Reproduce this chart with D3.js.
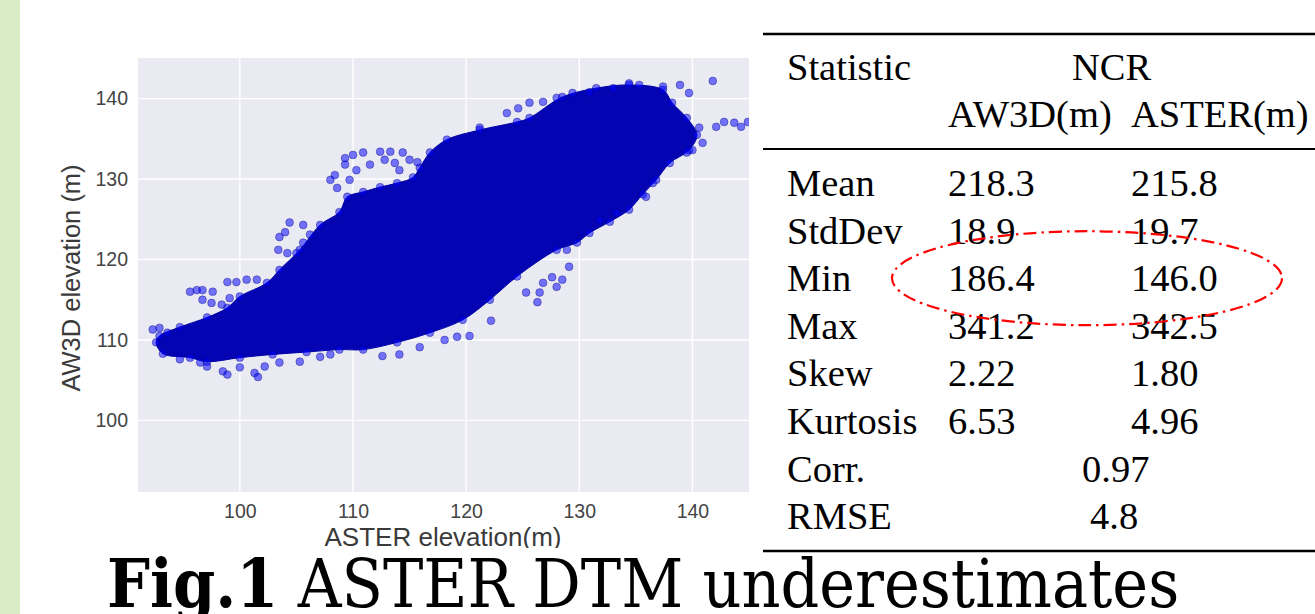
<!DOCTYPE html>
<html>
<head>
<meta charset="utf-8">
<script src="https://cdn.jsdelivr.net/npm/d3@7"></script>
<style>
  html, body { margin: 0; padding: 0; background: #fff; }
  svg { display: block; }
</style>
</head>
<body>
<div id="chart"></div>
<script>
// axis ticks (ASTER on x, AW3D on y), both in metres
const xTicks = [100, 110, 120, 130, 140];
const yTicks = [100, 110, 120, 130, 140];

// outline of the dense part of the scatter cloud, [ASTER, AW3D]
const cloudOutline = [
  [92.6, 109.7], [92.9, 110.5], [94.7, 111.6], [97.1, 112.8], [98.9, 114.0],
  [100.0, 115.4], [102.4, 117.1], [103.5, 118.7], [105.3, 121.2], [107.1, 124.3],
  [108.8, 125.9], [109.5, 127.8], [110.9, 128.4], [112.4, 129.0], [113.9, 129.5],
  [115.3, 130.2], [115.9, 131.4], [116.8, 133.3], [118.3, 134.9], [121.2, 136.1],
  [124.5, 137.1], [125.6, 137.6], [128.5, 140.2], [131.5, 141.3], [134.4, 141.7],
  [137.4, 141.1], [138.2, 139.5], [139.5, 137.6], [140.4, 135.5], [139.7, 133.6],
  [138.0, 132.0], [136.8, 129.9], [135.6, 128.1], [134.4, 126.2], [132.7, 124.7],
  [130.9, 123.3], [129.8, 122.1], [128.0, 121.2], [124.5, 117.9], [122.1, 115.0],
  [119.7, 112.5], [116.8, 110.9], [113.9, 109.7], [110.9, 108.8], [108.8, 108.8],
  [105.9, 108.5], [102.9, 108.2], [100.0, 107.8], [97.1, 107.3], [95.6, 107.8],
  [93.2, 108.3]
];

// sparse points around the cloud, [ASTER, AW3D]
const outliers = [
  [92.3, 111.3], [93.6, 110.9], [92.9, 111.5],
  [96.2, 116.2], [96.7, 116.2], [97.6, 116.0], [98.9, 117.2], [99.7, 117.2],
  [100.6, 117.5], [101.5, 117.5], [96.7, 115.0], [97.5, 114.6], [98.4, 114.4],
  [99.1, 115.2], [95.6, 116.0],
  [103.5, 122.8], [104.4, 124.6], [105.6, 124.3], [105.6, 122.1], [103.4, 121.2],
  [104.2, 120.8], [105.0, 120.8], [104.0, 123.4], [106.2, 123.1],
  [110.0, 133.0], [110.9, 133.3], [112.4, 133.4], [113.3, 133.4], [114.4, 133.3],
  [109.3, 131.8], [111.5, 131.8], [113.7, 132.0], [115.0, 132.4], [108.4, 130.5],
  [109.7, 129.9], [108.0, 129.9], [108.6, 128.9],
  [109.3, 132.6], [110.3, 131.1], [112.8, 132.4], [114.1, 131.1], [115.7, 132.1],
  [121.2, 136.4], [123.6, 138.2], [124.6, 138.8], [125.6, 139.5], [126.8, 139.6],
  [128.0, 140.1], [129.4, 140.7], [130.9, 140.8], [133.0, 141.3], [134.4, 141.9],
  [135.3, 141.7], [137.4, 141.5], [138.9, 141.7], [139.7, 140.7], [141.8, 142.2],
  [142.1, 136.5], [142.8, 137.1], [143.7, 137.0], [144.3, 136.5], [144.9, 137.1],
  [140.6, 136.4], [140.9, 134.5], [140.0, 133.6], [139.5, 133.3],
  [131.8, 124.9], [133.3, 125.8], [135.9, 127.8], [136.5, 129.5], [128.9, 121.2],
  [129.1, 119.1], [128.5, 117.5], [128.0, 116.6], [127.6, 117.8], [126.8, 117.1],
  [126.5, 115.9], [122.2, 112.4], [126.3, 114.7], [125.3, 115.9],
  [120.3, 110.5], [119.2, 110.4], [112.6, 108.0], [114.1, 108.2], [115.9, 109.1],
  [118.1, 110.0],
  [98.5, 106.1], [98.9, 105.7], [101.3, 105.9], [101.6, 105.4], [97.1, 106.7],
  [96.5, 107.2], [105.3, 107.3], [107.1, 107.9], [108.0, 108.2], [103.5, 107.2],
  [94.7, 107.6], [100.0, 106.6], [102.2, 106.7]
];

// statistics table
const statNames = ["Mean", "StdDev", "Min", "Max", "Skew", "Kurtosis"];
const aw3dValues = ["218.3", "18.9", "186.4", "341.2", "2.22", "6.53"];
const asterValues = ["215.8", "19.7", "146.0", "342.5", "1.80", "4.96"];
const jointNames = ["Corr.", "RMSE"];
const jointValues = ["0.97", "4.8"];

const W = 1315, H = 614;
const svg = d3.select("#chart").append("svg")
  .attr("width", W).attr("height", H);

// green strip on the left
svg.append("rect").attr("x", 0).attr("y", 0).attr("width", 20).attr("height", H)
  .attr("fill", "#d9ebc4");

// ---- scatter plot ----
const x = d3.scaleLinear().domain([91, 145]).range([138, 749]);
const y = d3.scaleLinear().domain([91.1, 145.05]).range([492, 58]);

svg.append("rect")
  .attr("x", x.range()[0]).attr("y", y.range()[1])
  .attr("width", x.range()[1] - x.range()[0])
  .attr("height", y.range()[0] - y.range()[1])
  .attr("fill", "#eaeaf2");

svg.append("clipPath").attr("id", "plotclip").append("rect")
  .attr("x", x.range()[0]).attr("y", y.range()[1])
  .attr("width", x.range()[1] - x.range()[0])
  .attr("height", y.range()[0] - y.range()[1]);

const grid = svg.append("g").attr("stroke", "#fff").attr("stroke-width", 1.4);
grid.selectAll(".gx").data(xTicks).join("line")
  .attr("x1", d => x(d)).attr("x2", d => x(d))
  .attr("y1", y.range()[1]).attr("y2", y.range()[0]);
grid.selectAll(".gy").data(yTicks).join("line")
  .attr("y1", d => y(d)).attr("y2", d => y(d))
  .attr("x1", x.range()[0]).attr("x2", x.range()[1]);

const xAxis = svg.append("g")
  .attr("transform", `translate(0,${y.range()[0]})`)
  .call(d3.axisBottom(x).tickValues(xTicks).tickSize(0).tickPadding(12));
const yAxis = svg.append("g")
  .attr("transform", `translate(${x.range()[0]},0)`)
  .call(d3.axisLeft(y).tickValues(yTicks).tickSize(0).tickPadding(10));
[xAxis, yAxis].forEach(a => {
  a.select(".domain").remove();
  a.selectAll("text")
    .attr("fill", "#444")
    .style("font-family", "'Liberation Sans', Arial, sans-serif")
    .style("font-size", "19.5px");
});

const plot = svg.append("g").attr("clip-path", "url(#plotclip)");

// dense core of the cloud
plot.append("path")
  .datum(cloudOutline)
  .attr("d", d3.line().x(d => x(d[0])).y(d => y(d[1])).curve(d3.curveCatmullRomClosed))
  .attr("fill", "#0404b2")
  .attr("stroke", "#0000a8")
  .attr("stroke-width", 1);

// individual points (edge of the cloud and outliers)
plot.selectAll("circle.pt")
  .data(cloudOutline.concat(outliers))
  .join("circle")
  .attr("class", "pt")
  .attr("cx", d => x(d[0]))
  .attr("cy", d => y(d[1]))
  .attr("r", 3.9)
  .attr("fill", "#0000ff")
  .attr("fill-opacity", 0.52)
  .attr("stroke", "#00006e")
  .attr("stroke-opacity", 0.45)
  .attr("stroke-width", 0.8);

// axis titles
svg.append("text")
  .attr("transform", `translate(80,${(y.range()[0] + y.range()[1]) / 2 + 3}) rotate(-90)`)
  .attr("text-anchor", "middle")
  .attr("fill", "#3a3a3a")
  .style("font-family", "'Liberation Sans', Arial, sans-serif")
  .style("font-size", "25.5px")
  .text("AW3D elevation (m)");

svg.append("text")
  .attr("x", 443).attr("y", 546)
  .attr("text-anchor", "middle")
  .attr("fill", "#3a3a3a")
  .style("font-family", "'Liberation Sans', Arial, sans-serif")
  .style("font-size", "26px")
  .text("ASTER elevation(m)");

// white band behind the caption
svg.append("rect").attr("x", 20).attr("y", 548).attr("width", W - 20).attr("height", H - 548)
  .attr("fill", "#fff");

// ---- statistics table ----
const tbl = svg.append("g")
  .style("font-family", "'Liberation Serif', 'Times New Roman', serif")
  .style("font-size", "38.5px")
  .attr("fill", "#000");

const col0 = 787, col1 = 948, col2 = 1131;
const firstRow = 196, rowStep = 47.6;
const rowY = i => firstRow + i * rowStep;

tbl.append("line").attr("x1", 763).attr("x2", W).attr("y1", 34).attr("y2", 34)
  .attr("stroke", "#000").attr("stroke-width", 2.6);
tbl.append("line").attr("x1", 763).attr("x2", W).attr("y1", 149).attr("y2", 149)
  .attr("stroke", "#000").attr("stroke-width", 1.8);
tbl.append("line").attr("x1", 763).attr("x2", W).attr("y1", 551).attr("y2", 551)
  .attr("stroke", "#000").attr("stroke-width", 2.6);

tbl.append("text").attr("x", col0).attr("y", 80).text("Statistic");
tbl.append("text").attr("x", 1072).attr("y", 80).text("NCR");
tbl.append("text").attr("x", col1).attr("y", 127).text("AW3D(m)");
tbl.append("text").attr("x", col2).attr("y", 127).text("ASTER(m)");

statNames.forEach((name, i) => {
  tbl.append("text").attr("x", col0).attr("y", rowY(i)).text(name);
  tbl.append("text").attr("x", col1).attr("y", rowY(i)).text(aw3dValues[i]);
  tbl.append("text").attr("x", col2).attr("y", rowY(i)).text(asterValues[i]);
});
jointNames.forEach((name, j) => {
  const i = statNames.length + j;
  tbl.append("text").attr("x", col0).attr("y", rowY(i)).text(name);
  tbl.append("text").attr("x", j === 0 ? 1082 : 1090).attr("y", rowY(i)).text(jointValues[j]);
});

// red dash-dot ellipse around the Min row
const minRow = statNames.indexOf("Min");
svg.append("ellipse")
  .attr("cx", 1087).attr("cy", rowY(minRow) - 13)
  .attr("rx", 195).attr("ry", 47)
  .attr("fill", "none")
  .attr("stroke", "#ff0000")
  .attr("stroke-width", 2.2)
  .attr("stroke-dasharray", "13,5,2.5,5");

// ---- caption ----
const cap = svg.append("text")
  .attr("x", 107).attr("y", 607)
  .attr("fill", "#000")
  .style("font-family", "'DejaVu Serif Condensed', 'DejaVu Serif', serif")
  .style("font-stretch", "condensed")
  .style("font-size", "62px");
cap.append("tspan").attr("font-weight", "bold").text("Fig.1");
cap.append("tspan").text(" ASTER DTM underestimates");

// fit the caption to the width it has in the picture
const capW = cap.node().getComputedTextLength();
const target = 1073;
cap.style("font-size", (62 * target / capW).toFixed(1) + "px");
</script>
</body>
</html>
